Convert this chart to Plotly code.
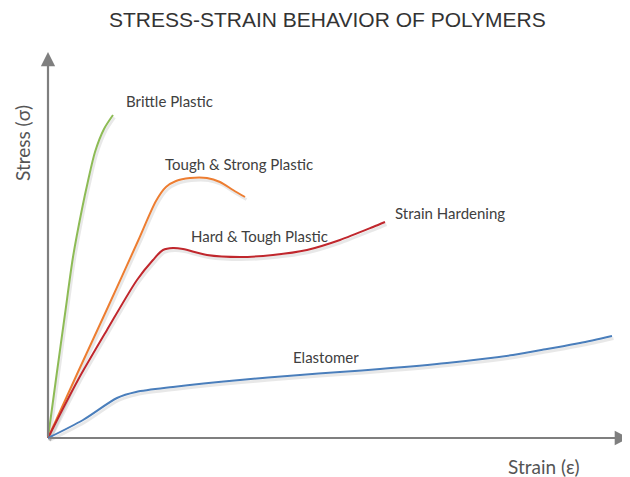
import plotly.graph_objects as go

# Strain / stress values (arbitrary units)
brittle_strain = [0, 8, 17, 25, 34, 40, 47, 56, 65]
brittle_stress = [0, 59, 124, 181, 229, 257, 286, 309, 323]

tough_strong_strain = [0, 30, 60, 90, 108, 118, 128, 142, 159, 172, 185, 197]
tough_strong_stress = [0, 66, 131, 197, 237, 251, 257, 260, 260, 256, 248, 241]

hard_tough_strain = [0, 30, 59, 89, 105, 115, 125, 135, 159, 192, 225, 259, 292, 325, 337]
hard_tough_stress = [0, 58, 108, 158, 178, 188, 190, 189, 183, 181, 183, 188, 198, 211, 216]

elastomer_strain = [0, 35, 69, 88, 125, 192, 252, 292, 332, 399, 465, 499, 532, 564]
elastomer_stress = [0, 18, 40, 46, 51, 58, 63, 66, 69, 75, 83, 89, 95, 102]

curve_names = ["Brittle Plastic", "Tough & Strong Plastic", "Hard & Tough Plastic", "Elastomer"]
curve_colors = ["#8dbb55", "#ed7d31", "#c0272d", "#4a7ebb"]

title_text = "STRESS-STRAIN BEHAVIOR OF POLYMERS"
x_label = "Strain (ε)"
y_label = "Stress (σ)"

fig = go.Figure()
series = [
    (brittle_strain, brittle_stress),
    (tough_strong_strain, tough_strong_stress),
    (hard_tough_strain, hard_tough_stress),
    (elastomer_strain, elastomer_stress),
]
# soft shadow
for (xs, ys) in series:
    fig.add_trace(go.Scatter(x=[v + 1.5 for v in xs], y=[v - 2.5 for v in ys], mode="lines",
                             line=dict(color="rgba(0,0,0,0.09)", width=3, shape="spline", smoothing=0.8),
                             hoverinfo="skip", showlegend=False))
for (xs, ys), name, col in zip(series, curve_names, curve_colors):
    fig.add_trace(go.Scatter(x=xs, y=ys, mode="lines", name=name,
                             line=dict(color=col, width=2, shape="spline", smoothing=0.8),
                             showlegend=False))

axis_col = "#7f7f7f"
# axes as arrows
fig.add_annotation(x=581, y=0, ax=0, ay=0, xref="x", yref="y", axref="x", ayref="y",
                   text="", showarrow=True, arrowhead=2, arrowsize=1.3, arrowwidth=2.2,
                   arrowcolor=axis_col, standoff=0)
fig.add_annotation(x=0, y=386, ax=0, ay=0, xref="x", yref="y", axref="x", ayref="y",
                   text="", showarrow=True, arrowhead=2, arrowsize=1.3, arrowwidth=2.2,
                   arrowcolor=axis_col, standoff=0)

label_font = dict(family="Lato, Open Sans, sans-serif", size=15, color="#404040")
labels = [
    ("Brittle Plastic", 76, 337),
    ("Tough & Strong Plastic", 115, 274),
    ("Hard & Tough Plastic", 141, 202),
    ("Strain Hardening", 345, 225),
    ("Elastomer", 243, 81),
]
for t, x, y in labels:
    fig.add_annotation(x=x, y=y, xref="x", yref="y", text=t, showarrow=False,
                       xanchor="left", yanchor="middle", font=label_font)

fig.add_annotation(x=496, y=-28, xref="x", yref="y", text=x_label, showarrow=False,
                   xanchor="center", yanchor="middle",
                   font=dict(family="Lato, Open Sans, sans-serif", size=19, color="#555555"))
fig.add_annotation(x=-26, y=295, xref="x", yref="y", text=y_label, showarrow=False,
                   textangle=-90, xanchor="center", yanchor="middle",
                   font=dict(family="Lato, Open Sans, sans-serif", size=19, color="#555555"))
fig.add_annotation(x=(327 - 8) / 622, y=1 - 12 / 469, xref="paper", yref="paper", text=title_text,
                   showarrow=False, xanchor="center", yanchor="middle",
                   font=dict(family="Liberation Sans, Arial, sans-serif", size=21, color="#333333"))

# page body has an 8px margin, so the figure is 8px smaller and shifted
fig.update_layout(
    width=622, height=469,
    margin=dict(l=0, r=0, t=0, b=0),
    paper_bgcolor="white", plot_bgcolor="white",
    xaxis=dict(range=[-40, 582], visible=False, fixedrange=True),
    yaxis=dict(range=[-39, 430], visible=False, fixedrange=True),
)
fig.write_html("out.html")
